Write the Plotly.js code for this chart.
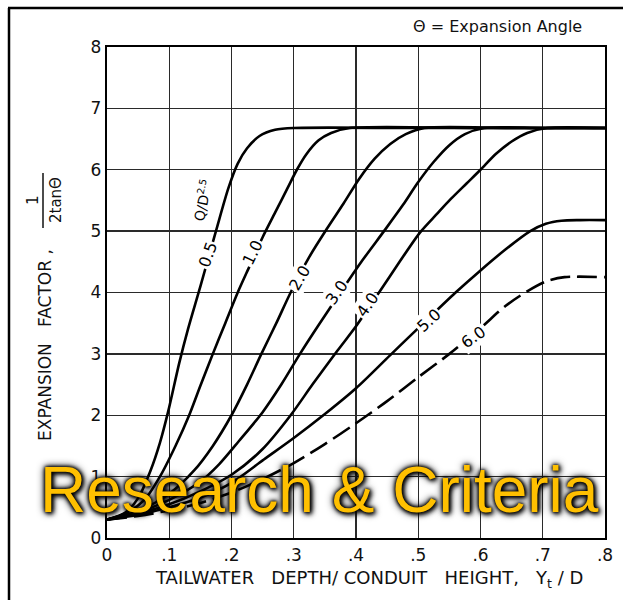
<!DOCTYPE html>
<html>
<head>
<meta charset="utf-8">
<script src="https://cdn.plot.ly/plotly-3.0.1.min.js"></script>
<style>html,body{margin:0;padding:0;background:#fff;}#chart{width:623px;height:600px;}</style>
</head>
<body>
<div id="chart"></div>
<script>
// Q/D^2.5 = 0.5
const x05 = [0, 0.03, 0.05, 0.07, 0.085, 0.098, 0.116, 0.13, 0.15, 0.175, 0.195, 0.21, 0.225, 0.245, 0.27, 0.3, 0.5, 0.8];
const y05 = [0.3, 0.42, 0.65, 1.1, 1.55, 2.05, 2.85, 3.4, 4.1, 5.0, 5.7, 6.1, 6.35, 6.55, 6.65, 6.68, 6.68, 6.68];
// Q/D^2.5 = 1.0
const x10 = [0, 0.03, 0.06, 0.085, 0.11, 0.132, 0.15, 0.17, 0.19, 0.21, 0.23, 0.25, 0.27, 0.29, 0.305, 0.32, 0.34, 0.36, 0.39, 0.6, 0.8];
const y10 = [0.3, 0.4, 0.62, 1.0, 1.5, 2.0, 2.48, 3.0, 3.5, 4.0, 4.45, 4.9, 5.3, 5.7, 6.0, 6.25, 6.48, 6.6, 6.68, 6.68, 6.68];
// Q/D^2.5 = 2.0
const x20 = [0, 0.05, 0.1, 0.14, 0.17, 0.2, 0.225, 0.248, 0.272, 0.295, 0.325, 0.354, 0.38, 0.405, 0.43, 0.455, 0.48, 0.51, 0.65, 0.8];
const y20 = [0.3, 0.44, 0.72, 1.1, 1.5, 2.0, 2.5, 3.0, 3.5, 4.0, 4.58, 5.05, 5.45, 5.85, 6.18, 6.42, 6.58, 6.68, 6.68, 6.68];
// Q/D^2.5 = 3.0
const x30 = [0, 0.05, 0.1, 0.15, 0.18, 0.212, 0.25, 0.28, 0.31, 0.34, 0.375, 0.41, 0.445, 0.475, 0.5, 0.525, 0.55, 0.575, 0.606, 0.7, 0.8];
const y30 = [0.3, 0.42, 0.62, 0.92, 1.2, 1.58, 2.05, 2.5, 3.0, 3.47, 4.0, 4.52, 5.0, 5.42, 5.8, 6.13, 6.4, 6.58, 6.68, 6.68, 6.68];
// Q/D^2.5 = 4.0
const x40 = [0, 0.05, 0.1, 0.15, 0.2, 0.25, 0.295, 0.33, 0.37, 0.4, 0.437, 0.47, 0.503, 0.53, 0.552, 0.578, 0.6, 0.625, 0.65, 0.675, 0.707, 0.8];
const y40 = [0.3, 0.4, 0.55, 0.76, 1.03, 1.45, 2.0, 2.5, 3.05, 3.45, 4.0, 4.5, 4.98, 5.28, 5.52, 5.78, 6.0, 6.26, 6.46, 6.6, 6.68, 6.68];
// Q/D^2.5 = 5.0
const x50 = [0, 0.05, 0.1, 0.15, 0.2, 0.252, 0.3, 0.35, 0.4, 0.455, 0.5, 0.56, 0.6, 0.64, 0.68, 0.705, 0.73, 0.76, 0.8];
const y50 = [0.3, 0.38, 0.5, 0.66, 0.9, 1.28, 1.63, 2.02, 2.44, 2.98, 3.42, 4.0, 4.36, 4.7, 5.0, 5.12, 5.17, 5.18, 5.18];
// Q/D^2.5 = 6.0 (dashed)
const x60 = [0, 0.05, 0.1, 0.15, 0.2, 0.25, 0.3, 0.35, 0.4, 0.45, 0.5, 0.55, 0.6, 0.64, 0.675, 0.705, 0.735, 0.8];
const y60 = [0.3, 0.36, 0.45, 0.57, 0.74, 0.96, 1.22, 1.53, 1.87, 2.23, 2.62, 3.0, 3.42, 3.78, 4.02, 4.18, 4.25, 4.25];

const xTickVals = [0, 0.1, 0.2, 0.3, 0.4, 0.5, 0.6, 0.7, 0.8];
const xTickText = ['0', '.1', '.2', '.3', '.4', '.5', '.6', '.7', '.8'];
const yTickVals = [0, 1, 2, 3, 4, 5, 6, 7, 8];

const curveLabels = ['0.5', '1.0', '2.0', '3.0', '4.0', '5.0', '6.0'];
const labelX = [0.162, 0.234, 0.31, 0.369, 0.419, 0.517, 0.588];
const labelY = [4.62, 4.65, 4.24, 4.0, 3.8, 3.55, 3.26];
const labelAngle = [-70, -64, -60, -55, -55, -42, -36];

const series = [[x05, y05], [x10, y10], [x20, y20], [x30, y30], [x40, y40], [x50, y50], [x60, y60]];
const traces = series.map((s, i) => ({
  x: s[0], y: s[1], type: 'scatter', mode: 'lines', hoverinfo: 'skip',
  line: {color: '#000', width: 2.6, shape: 'spline', smoothing: 0.8, dash: i === 6 ? '20px,7px' : 'solid'}
}));

// pixel helpers for paper coordinates (plot area 107..605 x, 47..538 y)
const PL = 107, PR = 605, PT = 47, PB = 538;
const px = v => (v - PL) / (PR - PL);
const py = v => (PB - v) / (PB - PT);

const annotations = curveLabels.map((t, i) => ({
  x: labelX[i], y: labelY[i], xref: 'x', yref: 'y', xanchor: 'center', yanchor: 'middle',
  text: t, showarrow: false, textangle: labelAngle[i], bgcolor: '#fff', borderpad: 1,
  font: {family: 'DejaVu Sans', size: 16, color: '#000'}
}));
function paperNote(xp, yp, text, font, angle) {
  return {x: px(xp), y: py(yp), xref: 'paper', yref: 'paper', xanchor: 'center', yanchor: 'middle',
          text: text, showarrow: false, textangle: angle || 0, font: font};
}
annotations.push({
  x: 0.154, y: 5.5, xref: 'x', yref: 'y', xanchor: 'center', yanchor: 'middle',
  text: 'Q/D<sup>2.5</sup>', showarrow: false, textangle: -78,
  font: {family: 'DejaVu Sans', size: 14, color: '#000'}
});
annotations.push(paperNote(497, 26, 'Θ = Expansion Angle', {family: 'DejaVu Sans', size: 16, color: '#111'}));
annotations.push(paperNote(369, 579, 'TAILWATER\u00a0\u00a0 DEPTH/ CONDUIT\u00a0\u00a0 HEIGHT,\u00a0\u00a0 Y<sub>t</sub> / D',
  {family: 'DejaVu Sans', size: 18, color: '#111'}));
annotations.push(paperNote(45, 345, 'EXPANSION\u00a0\u00a0 FACTOR ,', {family: 'DejaVu Sans', size: 17, color: '#111'}, -90));
annotations.push(paperNote(33, 200, '1', {family: 'DejaVu Sans', size: 15, color: '#111'}, -90));
annotations.push(paperNote(56, 200, '2tanΘ', {family: 'DejaVu Sans', size: 15, color: '#111'}, -90));
annotations.push(paperNote(319, 490, 'Research & Criteria',
  {family: 'Liberation Sans, Arial', size: 64, color: '#FFC000',
   shadow: '0px 0px 3px #000, 0px 0px 5px #000, 2px 2px 5px #000, 0px 0px 9px #111'}));

const shapes = [
  {type: 'line', xref: 'paper', yref: 'paper', x0: px(43), x1: px(43), y0: py(173), y1: py(228), line: {color: '#111', width: 1.5}},
  {type: 'line', xref: 'paper', yref: 'paper', x0: px(9), x1: px(9), y0: py(8), y1: py(602), line: {color: '#000', width: 2.5}},
  {type: 'line', xref: 'paper', yref: 'paper', x0: px(8), x1: px(625), y0: py(8), y1: py(8), line: {color: '#000', width: 2.5}}
];

const axisCommon = {
  showgrid: true, gridcolor: '#2a2a2a', gridwidth: 1.3, zeroline: false,
  showline: true, linecolor: '#000', linewidth: 2.2, mirror: true, ticks: '',
  tickfont: {family: 'DejaVu Sans', size: 17, color: '#111'}, fixedrange: true
};

const layout = {
  width: 623, height: 600,
  margin: {l: PL, r: 623 - PR, t: PT, b: 600 - PB, pad: 0},
  paper_bgcolor: '#fff', plot_bgcolor: '#fff', showlegend: false,
  xaxis: Object.assign({}, axisCommon, {range: [0, 0.8], tickmode: 'array', tickvals: xTickVals, ticktext: xTickText}),
  yaxis: Object.assign({}, axisCommon, {range: [0, 8], tickmode: 'array', tickvals: yTickVals}),
  annotations: annotations, shapes: shapes
};

Plotly.newPlot('chart', traces, layout, {displayModeBar: false, staticPlot: true});
</script>
</body>
</html>
